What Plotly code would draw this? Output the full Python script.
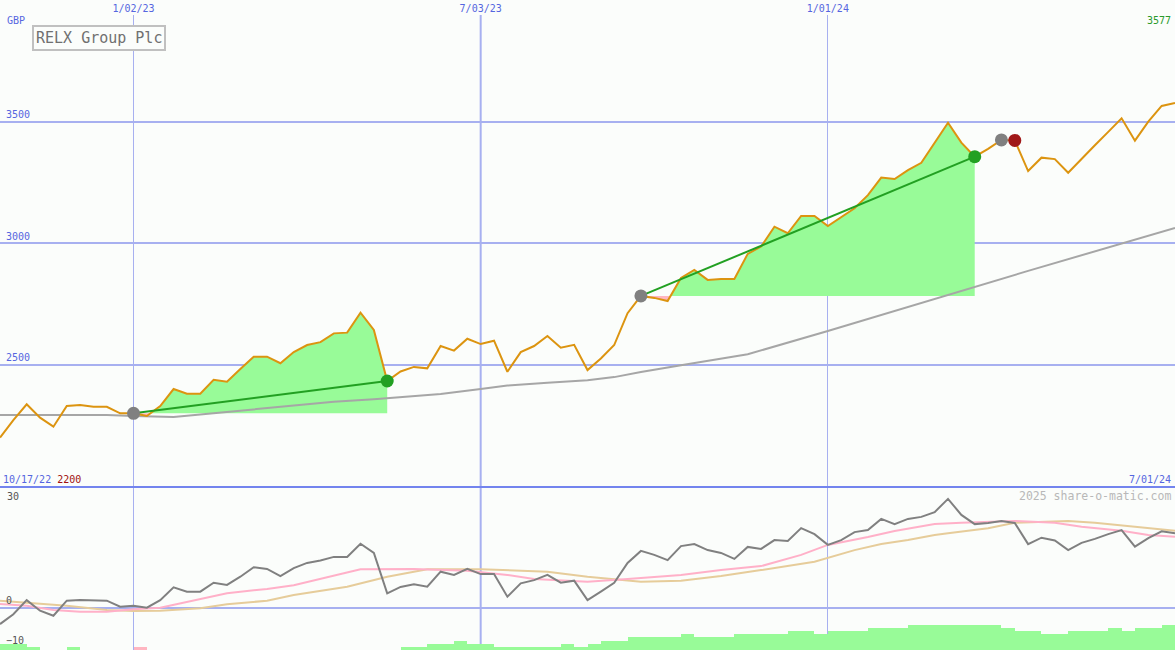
import pandas as pd
import plotly.graph_objects as go

BG = "#fbfdfb"
GRID = "#a7b0f0"
BORDER = "#7384ee"
BLUE_TXT = "#5566e0"
FONT = "DejaVu Sans Mono"

# ---------------- data ----------------
week_start = "2022-10-24"
n_weeks = 89
dates = pd.date_range(week_start, periods=n_weeks, freq="7D")

price = [2200, 2272, 2337, 2282, 2245, 2330, 2334, 2327, 2327, 2300,
         2300, 2289, 2330, 2400, 2381, 2381, 2438, 2430, 2482, 2533,
         2533, 2506, 2552, 2581, 2593, 2629, 2632, 2714, 2643, 2433,
         2472, 2491, 2485, 2577, 2558, 2607, 2585, 2599, 2471, 2552,
         2577, 2618, 2570, 2582, 2478, 2526, 2581, 2712, 2783, 2775,
         2762, 2857, 2890, 2849, 2853, 2853, 2956, 2986, 3068, 3041,
         3112, 3112, 3071, 3109, 3144, 3198, 3270, 3264, 3301, 3331,
         3411, 3496, 3414, 3356, 3388, 3425, 3423, 3297, 3352, 3346,
         3290, 3348, 3403, 3458, 3514, 3422, 3500, 3565, 3577]

ma_idx = [0, 8, 10, 13, 15, 17, 20, 22, 25, 28, 31, 33, 36, 38, 41, 44, 46, 48, 51, 56, 62, 77, 88]
ma_val = [2293, 2293, 2289, 2285, 2295, 2305, 2321, 2331, 2348, 2358, 2372, 2380, 2400, 2414,
          2426, 2436, 2449, 2470, 2498, 2543, 2639, 2886, 3063]

mom = [-4.1, -1.65, 1.9, -0.75, -2.0, 1.75, 1.9, 1.75, 1.75, 0.25,
       0.5, 0.0, 1.9, 5.1, 4.0, 4.0, 6.25, 5.7, 7.75, 10.1,
       9.7, 7.9, 9.9, 11.2, 11.8, 12.7, 12.7, 16.0, 13.7, 3.6,
       5.2, 5.85, 5.25, 9.0, 8.2, 9.7, 8.4, 8.4, 2.75, 6.1,
       6.9, 8.2, 6.25, 6.75, 1.9, 4.0, 6.2, 11.2, 14.2, 13.2,
       11.9, 15.4, 15.9, 14.4, 13.7, 12.2, 15.2, 14.7, 16.9, 16.7,
       19.9, 18.4, 15.7, 16.9, 18.9, 19.4, 22.2, 20.9, 22.2, 22.7,
       23.9, 27.2, 23.2, 20.9, 21.2, 21.7, 21.2, 15.9, 17.5, 16.8,
       14.4, 16.2, 17.2, 18.4, 19.4, 15.25, 17.4, 19.1, 18.6]

pink_idx = [0, 2, 4, 6, 8, 10, 12, 14, 17, 20, 22, 27, 31, 35, 38, 40, 44, 47, 51, 54, 57,
            60, 62, 65, 67, 70, 72, 76, 79, 81, 84, 86, 88]
pink_val = [0.9, 0.5, -0.6, -1.0, -1.0, -0.4, 0.0, 1.5, 3.6, 4.7, 5.6, 9.6, 9.7, 9.25, 8.2, 7.2,
            6.5, 7.2, 8.2, 9.4, 10.4, 13.2, 15.7, 17.7, 19.2, 20.9, 21.25, 21.7, 21.25, 20.25,
            19.25, 18.2, 17.75]

tan_idx = [0, 3, 5, 8, 10, 12, 15, 17, 20, 22, 26, 29, 32, 36, 41, 44, 48, 51, 54, 57, 61,
           64, 66, 68, 70, 71, 74, 76, 80, 82, 85, 88]
tan_val = [1.75, 1.1, 0.5, -0.6, -0.8, -0.75, -0.15, 0.85, 1.75, 3.2, 5.25, 7.75, 9.6, 9.6,
           9.0, 7.75, 6.5, 6.75, 7.9, 9.4, 11.5, 14.4, 15.9, 16.9, 18.2, 18.6, 19.85, 21.25,
           21.7, 21.25, 20.25, 19.25]

hist = [2, 2, 1, 0, 0, 1, 0, 0, 0, 0, -1,
        0, 0, 0, 0, 0, 0, 0, 0, 0, 0, 0, 0, 0, 0, 0, 0, 0, 0, 0,
        1, 1, 2, 2, 3, 2, 2, 1, 1, 1, 1, 1, 2, 1, 2, 3, 3, 4, 4, 4,
        4, 5, 4, 4, 4, 5, 5, 5, 5, 6, 6, 5, 6, 6, 6, 7, 7, 7, 8, 8,
        8, 8, 8, 8, 8, 7, 6, 6, 5, 5, 6, 6, 6, 7, 6, 7, 7, 8, 8]

trades = [(10, 29), (48, 73)]      # closed trades: entry week, exit week
open_trade = (75, 76)              # entry week, stop week

date_ticks = ["2023-01-02", "2023-07-03", "2024-01-01"]
price_ticks = [2500, 3000, 3500]
osc_ticks = [-10, 0]
title = "RELX Group Plc"
currency = "GBP"

# ---------------- figure ----------------
fig = go.Figure()


def split_fill(i0, i1, base):
    xs = [dates[i0]]
    up = [max(price[i0], base)]
    lo = [min(price[i0], base)]
    for k in range(i0, i1):
        p0, p1 = price[k], price[k + 1]
        if (p0 - base) * (p1 - base) < 0:
            t = (base - p0) / (p1 - p0)
            xs.append(dates[k] + (dates[k + 1] - dates[k]) * t)
            up.append(base)
            lo.append(base)
        xs.append(dates[k + 1])
        up.append(max(p1, base))
        lo.append(min(p1, base))
    return xs, up, lo


for (a, b) in trades:
    base = price[a]
    xs, up, lo = split_fill(a, b, base)
    for ys, col in ((up, "#98fb98"), (lo, "#ffb6c1")):
        fig.add_trace(go.Scatter(x=xs, y=[base] * len(xs), mode="lines",
                                 line=dict(width=0), hoverinfo="skip",
                                 xaxis="x", yaxis="y"))
        fig.add_trace(go.Scatter(x=xs, y=ys, mode="lines", line=dict(width=0),
                                 fill="tonexty", fillcolor=col, hoverinfo="skip",
                                 xaxis="x", yaxis="y"))

# long moving average
fig.add_trace(go.Scatter(x=[dates[i] for i in ma_idx], y=ma_val, mode="lines",
                         line=dict(color="#a6a6a6", width=2), xaxis="x", yaxis="y"))
# price
fig.add_trace(go.Scatter(x=dates, y=price, mode="lines",
                         line=dict(color="#dc9410", width=2), xaxis="x", yaxis="y"))
# trade lines + markers
for (a, b) in trades:
    fig.add_trace(go.Scatter(x=[dates[a], dates[b]], y=[price[a], price[b]], mode="lines",
                             line=dict(color="#22a022", width=2), xaxis="x", yaxis="y"))
    fig.add_trace(go.Scatter(x=[dates[a]], y=[price[a]], mode="markers",
                             marker=dict(color="#808080", size=13), xaxis="x", yaxis="y"))
    fig.add_trace(go.Scatter(x=[dates[b]], y=[price[b]], mode="markers",
                             marker=dict(color="#22a022", size=13), xaxis="x", yaxis="y"))
oa, ob = open_trade
fig.add_trace(go.Scatter(x=[dates[oa]], y=[price[oa]], mode="markers",
                         marker=dict(color="#808080", size=13), xaxis="x", yaxis="y"))
fig.add_trace(go.Scatter(x=[dates[ob]], y=[price[ob]], mode="markers",
                         marker=dict(color="#a01818", size=13), xaxis="x", yaxis="y"))

# oscillator panel
fig.add_trace(go.Scatter(x=[dates[i] for i in tan_idx], y=tan_val, mode="lines",
                         line=dict(color="#e6cc9a", width=2), xaxis="x2", yaxis="y2"))
fig.add_trace(go.Scatter(x=[dates[i] for i in pink_idx], y=pink_val, mode="lines",
                         line=dict(color="#ffb0c8", width=2), xaxis="x2", yaxis="y2"))
fig.add_trace(go.Scatter(x=dates, y=mom, mode="lines",
                         line=dict(color="#808080", width=2), xaxis="x2", yaxis="y2"))
week_ms = 7 * 24 * 3600 * 1000
fig.add_trace(go.Bar(x=dates, y=[abs(h) for h in hist], offset=0, width=week_ms,
                     marker=dict(color=["#98fb98" if h >= 0 else "#ffb6c1" for h in hist],
                                 line=dict(width=0)),
                     xaxis="x2", yaxis="y3"))

H = 650.0
split = 1 - 487 / H
top = 1 - 15 / H

tickfont = dict(family=FONT, size=10, color=BLUE_TXT)
fig.update_layout(
    width=1175, height=650, margin=dict(l=0, r=0, t=0, b=0),
    paper_bgcolor=BG, plot_bgcolor=BG, showlegend=False, bargap=0,
    xaxis=dict(domain=[0, 1], range=[dates[0], dates[-1]], anchor="y", side="top",
               tickvals=date_ticks, tickformat="%-m/%d/%y", tickfont=tickfont,
               ticks="", showgrid=True, gridcolor=GRID, gridwidth=1,
               showline=False, zeroline=False),
    yaxis=dict(domain=[split, top], range=[1996.8, 3939.1], tickvals=price_ticks,
               ticklabelposition="inside top", ticklabelstandoff=3, tickfont=tickfont,
               ticks="", showgrid=True, gridcolor=GRID, gridwidth=2, zeroline=False,
               showline=False),
    xaxis2=dict(domain=[0, 1], matches="x", anchor="y2", showticklabels=False,
                tickvals=date_ticks, ticks="", showgrid=True, gridcolor=GRID, gridwidth=1,
                showline=False, zeroline=False),
    yaxis2=dict(domain=[0, split], range=[-10.575, 30.175], tickvals=osc_ticks,
                ticklabelposition="inside top", ticklabelstandoff=3,
                tickfont=dict(family=FONT, size=10, color="#555555"), ticks="",
                showgrid=False, zeroline=True, zerolinecolor=GRID, zerolinewidth=2,
                showline=False),
    yaxis3=dict(domain=[0, split], overlaying="y2", range=[0, 51.75], visible=False),
)

# thicker mid-year grid line and panel border
fig.add_shape(type="line", xref="x", yref="paper", x0=date_ticks[1], x1=date_ticks[1],
              y0=0, y1=top, line=dict(color=GRID, width=2), layer="below")
fig.add_shape(type="line", xref="paper", yref="paper", x0=0, x1=1, y0=split, y1=split,
              line=dict(color=BORDER, width=2))


def ann(text, xpx, ypx, anchor="left", color=BLUE_TXT, size=10, **kw):
    fig.add_annotation(text=text, x=xpx / 1175, y=1 - ypx / H, xref="paper", yref="paper",
                       xanchor=anchor, yanchor="middle", showarrow=False,
                       font=dict(family=FONT, size=size, color=color), **kw)


ann(currency, 5, 21)
ann(f"{max(price)}", 1173, 21, anchor="right", color="#2a9a2a")
ann(f"{dates[0].month}/17/{dates[0].strftime('%y')} <span style='color:#a01010'>{min(price)}</span>",
    1, 479)
ann(f"{dates[-1].month}/{dates[-1].strftime('%d/%y')}", 1173, 479, anchor="right")
ann("2025 share-o-matic.com", 1173, 496, anchor="right", color="#b8b8b8", size=11.5)
ann("30", 5, 496, color="#555555")
fig.add_annotation(text=title, x=32 / 1175, y=1 - 25 / H, xref="paper", yref="paper",
                   xanchor="left", yanchor="top", showarrow=False,
                   font=dict(family=FONT, size=15, color="#707070"),
                   bordercolor="#c0c0c0", borderwidth=2, borderpad=2, bgcolor=BG)

fig.write_html("out.html", config={"displayModeBar": False},
               post_script="document.body.style.margin='0';document.body.style.overflow='hidden';")
